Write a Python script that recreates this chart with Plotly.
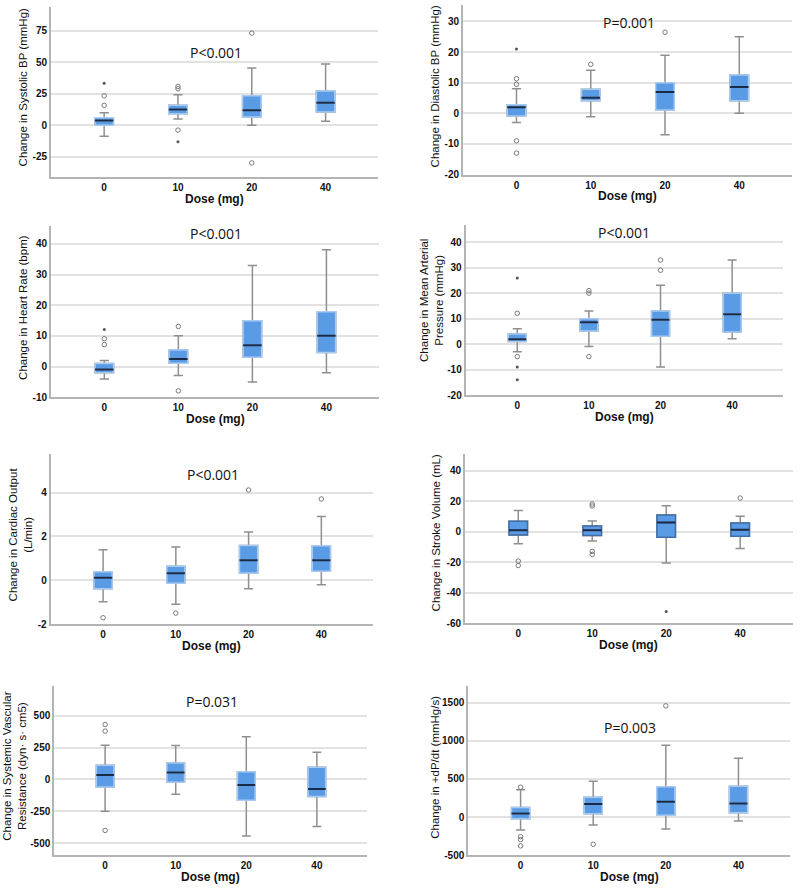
import plotly.graph_objects as go

doses = ["0", "10", "20", "40"]

# ---- Systolic BP ----
sbp_lo = [-8.7, 5.0, 0.0, 3.2]
sbp_q1 = [0.0, 9.2, 6.6, 10.5]
sbp_med = [3.7, 12.4, 11.8, 17.9]
sbp_q3 = [6.0, 15.8, 23.4, 27.1]
sbp_hi = [10.0, 24.2, 45.5, 48.7]
sbp_out = [[23.4, 15.8], [30.8, 29.0, -3.9], [73.2, -30.0], []]
sbp_ext = [[33.4], [-13.2], [], []]

# ---- Diastolic BP ----
dbp_lo = [-3.0, -1.1, -7.0, 0.0]
dbp_q1 = [-0.9, 4.1, 1.1, 4.1]
dbp_med = [2.0, 5.1, 7.0, 8.6]
dbp_q3 = [2.8, 7.9, 10.0, 12.5]
dbp_hi = [8.0, 14.1, 19.0, 25.0]
dbp_out = [[11.3, 9.5, -9.0, -13.0], [16.0], [26.5], []]
dbp_ext = [[21.0], [], [], []]

# ---- Heart Rate ----
hr_lo = [-4.0, -2.9, -5.0, -2.0]
hr_q1 = [-2.0, 1.1, 3.1, 4.6]
hr_med = [-0.9, 2.5, 7.0, 10.1]
hr_q3 = [1.0, 5.4, 15.0, 17.9]
hr_hi = [2.0, 10.1, 33.0, 38.1]
hr_out = [[9.1, 7.2], [13.1, -7.9], [], []]
hr_ext = [[12.1], [], [], []]

# ---- Mean Arterial Pressure ----
map_lo = [-3.0, -0.9, -9.0, 2.1]
map_q1 = [1.0, 5.1, 3.1, 4.8]
map_med = [1.9, 8.6, 9.6, 11.7]
map_q3 = [4.0, 10.0, 13.0, 20.0]
map_hi = [6.0, 13.0, 23.1, 33.0]
map_out = [[12.1, -4.9], [21.0, 20.0, -4.9], [33.0, 29.0], []]
map_ext = [[26.0, -9.0, -14.0], [], [], []]

# ---- Cardiac Output ----
co_lo = [-0.98, -1.1, -0.39, -0.2]
co_q1 = [-0.39, -0.14, 0.33, 0.41]
co_med = [0.12, 0.32, 0.91, 0.91]
co_q3 = [0.39, 0.64, 1.59, 1.58]
co_hi = [1.39, 1.52, 2.2, 2.91]
co_out = [[-1.71], [-1.5], [4.12], [3.71]]
co_ext = [[], [], [], []]

# ---- Stroke Volume ----
sv_lo = [-7.8, -5.9, -20.4, -10.9]
sv_q1 = [-2.0, -2.4, -3.5, -2.8]
sv_med = [1.1, 1.1, 6.1, 1.5]
sv_q3 = [7.0, 3.9, 11.1, 5.9]
sv_hi = [14.1, 7.2, 17.2, 10.2]
sv_out = [[-19.1, -22.0], [18.3, 17.0, -12.8, -14.8], [], [22.2]]
sv_ext = [[], [], [-52.2], []]

# ---- Systemic Vascular Resistance ----
svr_lo = [-250, -117, -445, -370]
svr_q1 = [-60, -23, -164, -135]
svr_med = [34, 55, -44, -76]
svr_q3 = [112, 130, 60, 96]
svr_hi = [268, 266, 336, 214]
svr_out = [[432, 380, -401], [], [], []]
svr_ext = [[], [], [], []]

# ---- +dP/dt ----
dpdt_lo = [-170, -104, -157, -52]
dpdt_q1 = [-22, 43, 22, 57]
dpdt_med = [48, 170, 200, 178]
dpdt_q3 = [126, 261, 396, 404]
dpdt_hi = [357, 470, 939, 770]
dpdt_out = [[391, -257, -296, -378], [-357], [1457], []]
dpdt_ext = [[], [], [], []]

datasets = {
    "sbp": (sbp_lo, sbp_q1, sbp_med, sbp_q3, sbp_hi, sbp_out, sbp_ext),
    "dbp": (dbp_lo, dbp_q1, dbp_med, dbp_q3, dbp_hi, dbp_out, dbp_ext),
    "hr": (hr_lo, hr_q1, hr_med, hr_q3, hr_hi, hr_out, hr_ext),
    "map": (map_lo, map_q1, map_med, map_q3, map_hi, map_out, map_ext),
    "co": (co_lo, co_q1, co_med, co_q3, co_hi, co_out, co_ext),
    "sv": (sv_lo, sv_q1, sv_med, sv_q3, sv_hi, sv_out, sv_ext),
    "svr": (svr_lo, svr_q1, svr_med, svr_q3, svr_hi, svr_out, svr_ext),
    "dpdt": (dpdt_lo, dpdt_q1, dpdt_med, dpdt_q3, dpdt_hi, dpdt_out, dpdt_ext),
}

# Layout of panels (pixel geometry in an 800x894 canvas)
panels = [
    dict(key="sbp", title="Change in Systolic BP (mmHg)", L=51, R=378, T=7, B=178,
         yr=[-41, 94], tv=[-25, 0, 25, 50, 75], p="P<0.001", px=215.7, py=53.3, tx=23, ty=88),
    dict(key="dbp", title="Change in Diastolic BP (mmHg)", L=463, R=792, T=5, B=175.7,
         yr=[-20, 35.4], tv=[-20, -10, 0, 10, 20, 30], p="P=0.001", px=629, py=22.3, tx=435, ty=87),
    dict(key="hr", title="Change in Heart Rate (bpm)", L=51, R=379, T=228, B=400,
         yr=[-10, 45.7], tv=[-10, 0, 10, 20, 30, 40], p="P<0.001", px=215.7, py=235, tx=23, ty=310),
    dict(key="map", title="Change in Mean Arterial<br>Pressure (mmHg)", L=465.7, R=783, T=226.7, B=397.7,
         yr=[-20, 46.7], tv=[-20, -10, 0, 10, 20, 30, 40], p="P<0.001", px=624, py=234.3, tx=432, ty=303),
    dict(key="co", title="Change in Cardiac Output<br>(L/min)", L=50.7, R=373, T=456.7, B=628.3,
         yr=[-2, 5.78], tv=[-2, 0, 2, 4], p="P<0.001", px=213, py=477.7, tx=20, ty=538),
    dict(key="sv", title="Change in Stroke Volume (mL)", L=465, R=792.7, T=456.7, B=627.7,
         yr=[-60, 51.3], tv=[-60, -40, -20, 0, 20, 40], p=None, px=0, py=0, tx=436, ty=537),
    dict(key="svr", title="Change in Systemic Vascular<br>Resistance (dyn· s· cm5)", L=54.3, R=367, T=690.7, B=861,
         yr=[-596, 734], tv=[-500, -250, 0, 250, 500], p="P=0.031", px=212.3, py=706.7, tx=15, ty=771),
    dict(key="dpdt", title="Change in +dP/dt (mmHg/s)", L=468.3, R=790, T=690.7, B=861,
         yr=[-500, 1716], tv=[-500, 0, 500, 1000, 1500], p="P=0.003", px=630, py=732.3, tx=435, ty=772),
]

W, H = 800, 894
BOX_FILL = "#5a9be6"
BOX_EDGE = "#a9cbf2"
MED = "#1c2b45"
WHISK = "#8f8f8f"
PT = "#7a7a7a"
FONT = "Arial"

fig = go.Figure()
annotations = []
layout_axes = {}

for i, pn in enumerate(panels):
    n = "" if i == 0 else str(i + 1)
    xa, ya = "x" + n, "y" + n
    lo, q1, med, q3, hi, outs, exts = datasets[pn["key"]]
    edge = "#3f6ea6" if pn["key"] == "sv" else BOX_EDGE

    # whiskers (gray)
    fig.add_trace(go.Box(x=doses, q1=q1, median=med, q3=q3, lowerfence=lo, upperfence=hi,
                         width=0.25, whiskerwidth=0.5, boxpoints=False,
                         line=dict(color=WHISK, width=1.5), fillcolor="rgba(0,0,0,0)",
                         xaxis=xa, yaxis=ya, hoverinfo="skip"))
    # box body (blue)
    fig.add_trace(go.Box(x=doses, q1=q1, median=med, q3=q3, lowerfence=q1, upperfence=q3,
                         width=0.25, whiskerwidth=0, boxpoints=False,
                         line=dict(color=edge, width=1.5), fillcolor=BOX_FILL,
                         xaxis=xa, yaxis=ya))
    # median line (dark)
    fig.add_trace(go.Box(x=doses, q1=med, median=med, q3=med, lowerfence=med, upperfence=med,
                         width=0.25, whiskerwidth=0, boxpoints=False,
                         line=dict(color=MED, width=2), fillcolor="rgba(0,0,0,0)",
                         xaxis=xa, yaxis=ya, hoverinfo="skip"))
    # outliers
    ox, oy = [], []
    for d, vals in zip(doses, outs):
        for v in vals:
            ox.append(d); oy.append(v)
    fig.add_trace(go.Scatter(x=ox, y=oy, mode="markers",
                             marker=dict(symbol="circle-open", size=4.5, color=PT, line=dict(width=1)),
                             xaxis=xa, yaxis=ya))
    ex, ey = [], []
    for d, vals in zip(doses, exts):
        for v in vals:
            ex.append(d); ey.append(v)
    fig.add_trace(go.Scatter(x=ex, y=ey, mode="markers",
                             marker=dict(symbol="circle", size=3, color="#555555"),
                             xaxis=xa, yaxis=ya))

    xd = [pn["L"] / W, pn["R"] / W]
    yd = [1 - pn["B"] / H, 1 - pn["T"] / H]
    layout_axes["xaxis" + n] = dict(
        domain=xd, anchor=ya, type="category", categoryorder="array", categoryarray=doses,
        range=[-0.72, 3.71], showline=True, linecolor="#b4b4b4", linewidth=2,
        showgrid=False, zeroline=False, ticks="", fixedrange=True,
        tickfont=dict(family=FONT, size=10, color="#111111", weight="bold"),
    )
    layout_axes["yaxis" + n] = dict(
        domain=yd, anchor=xa, range=pn["yr"], tickvals=pn["tv"],
        ticktext=[str(v) for v in pn["tv"]],
        showline=True, linecolor="#b4b4b4", linewidth=2,
        showgrid=True, gridcolor="#e2e2e2", gridwidth=1.5, zeroline=False, ticks="",
        tickfont=dict(family=FONT, size=10, color="#111111", weight="bold"),
    )
    # x title
    annotations.append(dict(text="Dose (mg)", xref="paper", yref="paper",
                            x=(pn["L"] + pn["R"]) / 2 / W, y=1 - (pn["B"] + 22) / H,
                            showarrow=False, xanchor="center", yanchor="middle",
                            font=dict(family=FONT, size=12, color="#111111", weight="bold")))
    # y title
    annotations.append(dict(text=pn["title"], xref="paper", yref="paper",
                            x=pn["tx"] / W, y=1 - pn["ty"] / H, textangle=-90,
                            showarrow=False, xanchor="center", yanchor="middle",
                            font=dict(family=FONT, size=11.5, color="#111111")))
    if pn["p"]:
        annotations.append(dict(text=pn["p"], xref="paper", yref="paper",
                                x=pn["px"] / W, y=1 - pn["py"] / H,
                                showarrow=False, xanchor="center", yanchor="middle",
                                font=dict(family="Open Sans", size=14, color="#111111")))

fig.update_layout(
    width=W, height=H, margin=dict(l=0, r=0, t=0, b=0),
    paper_bgcolor="white", plot_bgcolor="white",
    showlegend=False, boxmode="overlay", hovermode=False,
    annotations=annotations, **layout_axes,
)

fig.write_html("out.html", config={"displayModeBar": False},
               post_script="document.body.style.margin='0px';document.body.style.padding='0px';")
